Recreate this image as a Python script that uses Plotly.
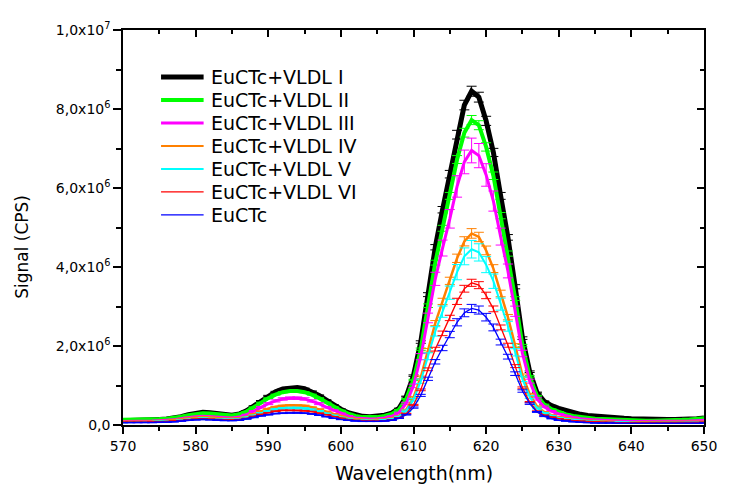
import plotly.graph_objects as go

# Wavelength grid (nm)
wavelength = list(range(570, 651))

series_names = ["EuCTc+VLDL I", "EuCTc+VLDL II", "EuCTc+VLDL III", "EuCTc+VLDL IV",
                "EuCTc+VLDL V", "EuCTc+VLDL VI", "EuCTc"]

# Signal values in units of 1e6 CPS, one value per nm from 570 to 650
sig_I = [0.11, 0.11, 0.12, 0.12, 0.13, 0.14, 0.15, 0.17, 0.21, 0.26,
         0.30, 0.32, 0.31, 0.28, 0.26, 0.25, 0.28, 0.36, 0.48, 0.61,
         0.74, 0.84, 0.91, 0.94, 0.95, 0.92, 0.85, 0.75, 0.63, 0.51,
         0.40, 0.31, 0.25, 0.22, 0.21, 0.22, 0.25, 0.30, 0.42, 0.72,
         1.25, 2.10, 3.30, 4.50, 5.45, 6.35, 7.35, 8.10, 8.45, 8.30,
         7.70, 6.90, 5.80, 4.75, 3.50, 2.20, 1.35, 0.82, 0.60, 0.49,
         0.42, 0.36, 0.31, 0.27, 0.24, 0.22, 0.20, 0.19, 0.18, 0.17,
         0.16, 0.15, 0.15, 0.14, 0.14, 0.14, 0.14, 0.14, 0.15, 0.16,
         0.18]
sig_II = [0.13, 0.13, 0.13, 0.14, 0.14, 0.15, 0.16, 0.18, 0.21, 0.25,
          0.28, 0.30, 0.29, 0.27, 0.25, 0.24, 0.27, 0.34, 0.45, 0.57,
          0.68, 0.77, 0.83, 0.86, 0.86, 0.83, 0.77, 0.68, 0.57, 0.46,
          0.37, 0.29, 0.23, 0.20, 0.19, 0.20, 0.23, 0.28, 0.39, 0.66,
          1.14, 1.92, 3.02, 4.11, 4.98, 5.80, 6.72, 7.40, 7.72, 7.59,
          7.04, 6.31, 5.30, 4.34, 3.20, 2.01, 1.23, 0.74, 0.52, 0.40,
          0.33, 0.27, 0.23, 0.20, 0.18, 0.16, 0.15, 0.14, 0.13, 0.12,
          0.12, 0.11, 0.11, 0.11, 0.11, 0.11, 0.12, 0.13, 0.14, 0.15,
          0.17]
sig_III = [0.09, 0.09, 0.09, 0.10, 0.10, 0.11, 0.12, 0.13, 0.16, 0.19,
           0.21, 0.22, 0.21, 0.20, 0.18, 0.18, 0.20, 0.26, 0.35, 0.45,
           0.54, 0.61, 0.66, 0.68, 0.68, 0.66, 0.61, 0.54, 0.45, 0.37,
           0.29, 0.23, 0.18, 0.16, 0.15, 0.16, 0.18, 0.22, 0.31, 0.55,
           0.99, 1.73, 2.71, 3.70, 4.48, 5.22, 6.04, 6.66, 6.95, 6.82,
           6.33, 5.67, 4.77, 3.90, 2.88, 1.81, 1.11, 0.66, 0.46, 0.35,
           0.28, 0.23, 0.19, 0.16, 0.14, 0.13, 0.12, 0.11, 0.10, 0.10,
           0.09, 0.09, 0.09, 0.09, 0.09, 0.09, 0.09, 0.10, 0.10, 0.11,
           0.12]
sig_IV = [0.08, 0.08, 0.08, 0.09, 0.09, 0.10, 0.10, 0.12, 0.14, 0.17,
          0.19, 0.20, 0.19, 0.17, 0.16, 0.16, 0.17, 0.21, 0.28, 0.35,
          0.41, 0.46, 0.49, 0.50, 0.50, 0.49, 0.45, 0.40, 0.34, 0.28,
          0.22, 0.18, 0.15, 0.13, 0.12, 0.13, 0.14, 0.17, 0.23, 0.39,
          0.70, 1.21, 1.89, 2.58, 3.13, 3.65, 4.22, 4.65, 4.85, 4.76,
          4.42, 3.96, 3.33, 2.73, 2.01, 1.26, 0.78, 0.47, 0.33, 0.25,
          0.20, 0.17, 0.14, 0.12, 0.11, 0.10, 0.09, 0.08, 0.08, 0.07,
          0.07, 0.07, 0.07, 0.07, 0.07, 0.07, 0.07, 0.07, 0.07, 0.08,
          0.08]
sig_V = [0.07, 0.07, 0.07, 0.08, 0.08, 0.09, 0.09, 0.10, 0.12, 0.14,
         0.16, 0.17, 0.16, 0.15, 0.14, 0.14, 0.15, 0.19, 0.24, 0.30,
         0.35, 0.40, 0.42, 0.43, 0.43, 0.42, 0.39, 0.35, 0.29, 0.24,
         0.19, 0.16, 0.13, 0.12, 0.11, 0.11, 0.13, 0.15, 0.21, 0.36,
         0.64, 1.11, 1.74, 2.37, 2.87, 3.35, 3.87, 4.27, 4.45, 4.37,
         4.06, 3.64, 3.06, 2.50, 1.84, 1.16, 0.71, 0.43, 0.30, 0.23,
         0.18, 0.15, 0.13, 0.11, 0.10, 0.09, 0.08, 0.07, 0.07, 0.07,
         0.06, 0.06, 0.06, 0.06, 0.06, 0.06, 0.06, 0.06, 0.07, 0.07,
         0.07]
sig_VI = [0.07, 0.07, 0.07, 0.07, 0.08, 0.08, 0.09, 0.10, 0.11, 0.13,
          0.15, 0.16, 0.15, 0.14, 0.13, 0.13, 0.14, 0.17, 0.22, 0.27,
          0.31, 0.35, 0.37, 0.37, 0.37, 0.36, 0.34, 0.30, 0.26, 0.21,
          0.17, 0.14, 0.12, 0.11, 0.10, 0.10, 0.11, 0.13, 0.18, 0.29,
          0.51, 0.89, 1.41, 1.92, 2.32, 2.71, 3.13, 3.45, 3.60, 3.54,
          3.28, 2.94, 2.47, 2.02, 1.49, 0.94, 0.58, 0.35, 0.25, 0.20,
          0.16, 0.13, 0.11, 0.10, 0.09, 0.08, 0.07, 0.07, 0.06, 0.06,
          0.06, 0.06, 0.06, 0.06, 0.06, 0.06, 0.06, 0.06, 0.06, 0.06,
          0.07]
sig_EuCTc = [0.06, 0.06, 0.06, 0.06, 0.06, 0.07, 0.07, 0.08, 0.10, 0.12,
             0.13, 0.14, 0.13, 0.12, 0.11, 0.11, 0.12, 0.15, 0.19, 0.23,
             0.26, 0.29, 0.30, 0.31, 0.31, 0.30, 0.28, 0.25, 0.21, 0.17,
             0.14, 0.12, 0.10, 0.09, 0.09, 0.09, 0.10, 0.12, 0.17, 0.26,
             0.44, 0.75, 1.17, 1.60, 1.95, 2.29, 2.60, 2.84, 2.95, 2.91,
             2.73, 2.47, 2.10, 1.73, 1.30, 0.86, 0.54, 0.33, 0.22, 0.16,
             0.12, 0.10, 0.08, 0.07, 0.06, 0.05, 0.05, 0.05, 0.04, 0.04,
             0.04, 0.04, 0.04, 0.04, 0.04, 0.04, 0.04, 0.04, 0.04, 0.04,
             0.05]

# relative uncertainty of each series (fraction of signal)
rel_error = [0.015, 0.015, 0.045, 0.025, 0.05, 0.025, 0.035]

all_series = [sig_I, sig_II, sig_III, sig_IV, sig_V, sig_VI, sig_EuCTc]

y_tick_vals = [0, 2e6, 4e6, 6e6, 8e6, 1e7]
y_minor_vals = [1e6, 3e6, 5e6, 7e6, 9e6]
y_tick_text = ["0,0", "2,0x10<sup>6</sup>", "4,0x10<sup>6</sup>", "6,0x10<sup>6</sup>",
               "8,0x10<sup>6</sup>", "1,0x10<sup>7</sup>"]
x_tick_vals = [570, 580, 590, 600, 610, 620, 630, 640, 650]
x_range = [570, 650]
y_range = [0, 1e7]

# styling
colors = ["#000000", "#00ff00", "#ff00ff", "#ff8000", "#00ffff", "#ff0000", "#0000ff"]
widths = [5, 4, 3, 2.5, 2, 1.3, 1.3]
legend_widths = [5, 4, 3, 2, 2, 1.2, 1.2]

FONT = "DejaVu Sans"

fig = go.Figure()
for name, vals, err, col, w in zip(series_names, all_series, rel_error, colors, widths):
    yv = [v * 1e6 for v in vals]
    fig.add_trace(go.Scatter(
        x=wavelength, y=yv, name=name, mode="lines", showlegend=False,
        line=dict(color=col, width=w),
        error_y=dict(type="data", array=[v * err for v in yv], visible=True,
                     color=col, thickness=1, width=5),
    ))

# empty trace so the mirrored frame axes (top / right) get drawn
fig.add_trace(go.Scatter(x=[], y=[], xaxis="x2", yaxis="y2", showlegend=False,
                         hoverinfo="skip"))

axis_common = dict(showgrid=False, zeroline=False, showline=True, linecolor="black",
                   linewidth=1.5, tickwidth=1.5, tickcolor="black")

# Legend drawn inside the plot frame (line samples + labels)
shapes = []
annotations = []
row0_px, row_step = 70.0, 23.45
for i, (name, col, lw) in enumerate(zip(series_names, colors, legend_widths)):
    py = (425 - (row0_px + i * row_step)) / 403.0
    shapes.append(dict(type="line", xref="paper", yref="paper",
                       x0=(161.7 - 123) / 591, x1=(205 - 123) / 591, y0=py, y1=py,
                       line=dict(color=col, width=lw)))
    annotations.append(dict(text=name, xref="paper", yref="paper",
                            x=(210.5 - 123) / 591, y=py, xanchor="left", yanchor="middle",
                            showarrow=False, font=dict(size=19, family=FONT, color="black")))

annotations += [
    dict(text="Signal (CPS)", textangle=-90, xref="paper", yref="paper",
         x=(20 - 123) / 591, y=(425 - 243.5) / 403, xanchor="center", yanchor="middle",
         showarrow=False, font=dict(size=17, family=FONT)),
    dict(text="Wavelength(nm)", xref="paper", yref="paper", x=0.5, y=(425 - 474) / 403,
         xanchor="center", yanchor="middle", showarrow=False,
         font=dict(size=19, family=FONT)),
]

# The page body adds an 8px offset, so the figure is 8px smaller and margins shifted.
fig.update_layout(
    width=721, height=477,
    margin=dict(l=115, r=15, t=14, b=60),
    paper_bgcolor="white", plot_bgcolor="white",
    font=dict(family=FONT, color="black"),
    showlegend=False,
    xaxis=dict(range=x_range, tickvals=x_tick_vals, ticks="outside", ticklen=7,
               tickfont=dict(size=14, family=FONT),
               minor=dict(dtick=5, ticks="outside", ticklen=4, tickwidth=1.5, tickcolor="black"),
               **axis_common),
    yaxis=dict(range=y_range, tickvals=y_tick_vals, ticktext=y_tick_text, ticks="outside",
               ticklen=8, tickfont=dict(size=14, family=FONT),
               minor=dict(tickvals=y_minor_vals, ticks="outside", ticklen=5,
                          tickwidth=1.5, tickcolor="black"),
               **axis_common),
    xaxis2=dict(overlaying="x", side="top", range=x_range, tickvals=x_tick_vals,
                showticklabels=False, ticks="inside", ticklen=7,
                minor=dict(dtick=5, ticks="inside", ticklen=4, tickwidth=1.5, tickcolor="black"),
                **axis_common),
    yaxis2=dict(overlaying="y", side="right", range=y_range, tickvals=y_tick_vals,
                showticklabels=False, ticks="inside", ticklen=7,
                minor=dict(tickvals=y_minor_vals, ticks="inside", ticklen=4,
                           tickwidth=1.5, tickcolor="black"),
                **axis_common),
    shapes=shapes,
    annotations=annotations,
)

fig.write_html("out.html", config={"displayModeBar": False})
